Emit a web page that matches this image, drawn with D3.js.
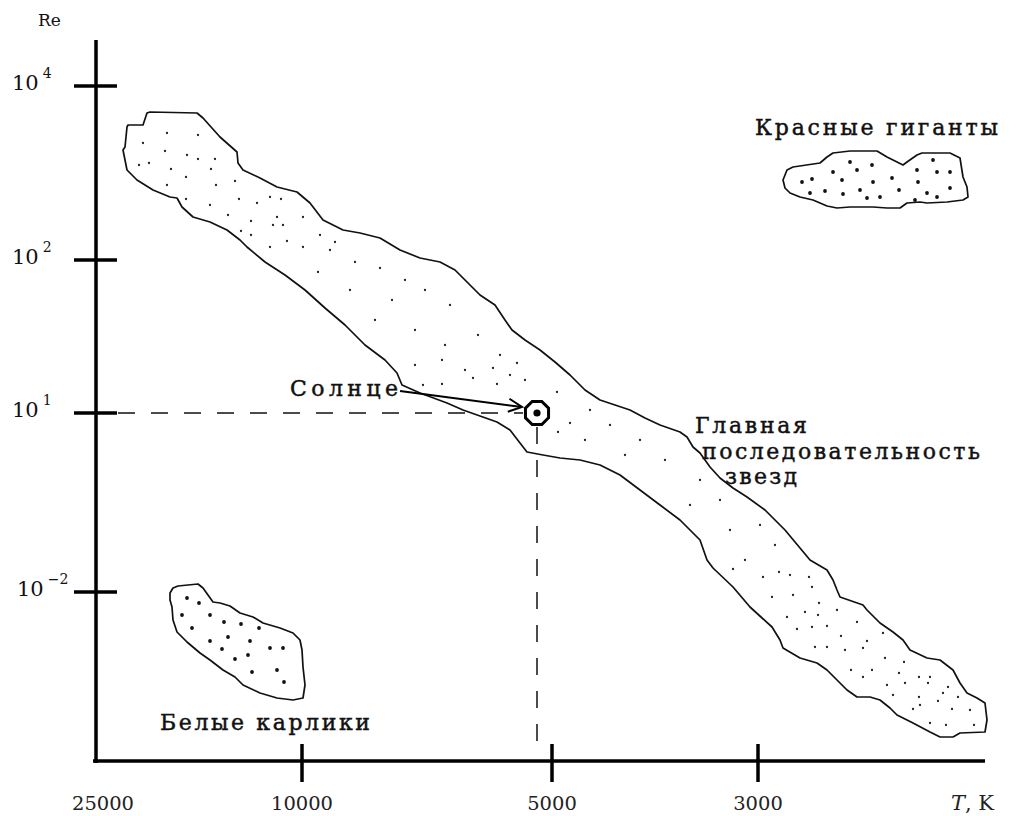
<!DOCTYPE html>
<html><head><meta charset="utf-8">
<script src="https://cdn.jsdelivr.net/npm/d3@7"></script>
<style>body{margin:0;background:#fff}svg{display:block}
text{font-family:"DejaVu Serif","Liberation Serif",serif}</style>
</head><body>
<svg id="chart" width="1035" height="816"></svg>
<script>
// ---- Axis data ----
const tempTicks = [25000, 10000, 5000, 3000];          // T, K (schematic axis)
const tempTickLabels = ["25000", "10000", "5000", "3000"];
const tempTickMarks = [10000, 5000, 3000];
const reExponents = [4, 2, 1, -2];                      // Re = 10^e
const reTickLabels = ["4", "2", "1", "\u22122"];
const axisTitleX = "T";
const axisTitleXUnit = ", K";
const axisTitleY = "Re";

// ---- Sun ----
const sunT = 5300;
const sunExp = 1;
const sunLabel = "Солнце";

// ---- Region labels ----
const mainSeqLabel = ["Главная", "последовательность", "звезд"];
const giantsLabel = "Красные гиганты";
const dwarfsLabel = "Белые карлики";

// ---- Regions, in sketch units (u along the T axis, v up the Re axis) ----
const mainSeqOutline = [
 [31,634],[32,636],[47,636],[51,648],[54,649],[101,648],[107,643],[124,624],[141,609],[142,598],[147,591],[164,583],[181,574],[201,569],[214,558],[227,541],[247,531],[264,528],[284,523],[304,511],[324,503],[344,499],[359,491],[374,476],[384,466],[399,456],[409,441],[416,431],[429,421],[444,411],[459,399],[474,386],[489,371],[504,361],[519,356],[534,351],[549,343],[564,336],[584,329],[591,324],[597,314],[604,308],[614,294],[624,283],[637,273],[651,264],[669,251],[689,231],[704,213],[714,201],[731,191],[737,181],[741,171],[744,164],[767,156],[771,151],[784,138],[797,129],[807,121],[814,111],[831,103],[844,101],[857,91],[864,78],[871,68],[881,63],[889,58],[891,41],[889,29],
 [864,28],[857,24],[844,24],[834,29],[817,38],[801,46],[794,53],[784,61],[774,64],[761,64],[751,71],[741,81],[731,91],[721,98],[704,103],[687,113],[684,121],[676,134],[654,154],[637,174],[617,193],[611,201],[604,221],[584,241],[564,256],[544,271],[524,286],[504,296],[484,301],[464,303],[447,306],[431,309],[424,318],[414,331],[401,339],[384,345],[367,351],[351,358],[324,368],[306,376],[301,388],[289,401],[269,416],[249,436],[229,453],[209,471],[189,486],[169,499],[151,514],[144,521],[131,531],[114,539],[97,544],[86,554],[81,563],[74,564],[57,571],[41,581],[31,591],[27,611],[29,614]
];
const mainSeqDots = [
 [71,628],[102,626],[47,618],[69,610],[91,606],[102,602],[119,602],[43,596],[53,598],[75,592],[115,592],[90,584],[139,580],[71,576],[120,576],[90,562],[143,562],[114,556],[161,558],[174,564],[185,562],[132,546],[181,544],[207,544],[155,540],[177,536],[187,536],[145,530],[155,526],[224,526],[239,519],[191,520],[174,514],[207,514],
 [234,511],[259,499],[222,489],[284,493],[309,481],[254,471],[296,461],[329,471],[354,456],[279,441],[319,431],[349,416],[382,426],[404,406],[369,391],[414,386],[319,396],[346,401],[377,383],[397,393],[421,398],[429,381],[327,376],[346,377],[401,377],[461,369],[474,338],[462,329],[494,351],[514,336],[489,321],[544,321],[569,301],[529,306],[604,281],[594,256],[624,261],[634,231],[664,236],[649,201],[679,216],[694,186],
 [637,192],[667,184],[683,189],[713,184],[716,174],[676,164],[697,166],[723,158],[741,151],[691,144],[709,149],[722,146],[731,135],[761,139],[701,132],[716,134],[745,125],[787,128],[771,120],[719,114],[731,114],[749,111],[767,113],[789,103],[808,99],[755,91],[776,91],[767,84],[803,88],[791,76],[809,78],[823,84],[834,84],[832,78],[852,74],[797,66],[823,64],[847,68],[862,64],[842,60],[824,56],[817,52],[856,52],[874,51],[834,38],[850,36],[878,36]
];
const giantsOutline = [
 [687,581],[691,591],[697,594],[724,598],[731,604],[737,608],[754,610],[781,610],[791,604],[801,599],[807,596],[811,599],[821,606],[826,608],[854,608],[864,603],[867,584],[871,574],[872,564],[867,561],[851,559],[831,558],[824,559],[811,558],[804,553],[791,553],[777,554],[754,554],[741,553],[731,555],[717,561],[704,564],[694,568],[689,573]
];
const giantsDots = [
 [754,599],[776,596],[737,589],[761,591],[837,601],[821,591],[841,589],[854,589],[706,579],[716,582],[746,581],[777,579],[796,583],[822,579],[714,568],[729,570],[747,567],[764,571],[771,563],[784,564],[803,571],[831,568],[841,564],[854,573],[819,561]
];
const dwarfsOutline = [
 [74,168],[77,173],[82,175],[102,177],[107,173],[112,166],[117,159],[124,158],[134,155],[144,148],[157,144],[167,138],[184,133],[197,128],[204,121],[206,111],[207,94],[209,76],[207,63],[197,61],[181,63],[164,68],[147,76],[139,84],[127,91],[114,101],[104,108],[91,119],[81,129],[77,141],[76,154],[74,161]
];
const dwarfsDots = [
 [91,163],[103,158],[86,146],[114,146],[128,139],[145,137],[163,133],[96,133],[114,120],[132,124],[154,120],[126,112],[174,113],[187,113],[139,102],[152,106],[156,89],[181,91],[188,79]
];

// ---- Drawing ----
const svg = d3.select("#chart");
const W = 1035, H = 816;
svg.append("rect").attr("width", W).attr("height", H).attr("fill", "#fff");

// Schematic scales
const xT = d3.scaleLinear().domain(tempTicks).range([103, 302, 552, 758]);
const yR = d3.scaleLinear().domain(reExponents).range([86, 260, 413, 592]);
// Sketch-unit scales for the free-hand regions (origin at the axes corner)
const sx = d3.scaleLinear().domain([0, 889]).range([96, 985]);
const sy = d3.scaleLinear().domain([0, 721]).range([761, 40]);

const outline = d3.line().x(d => sx(d[0])).y(d => sy(d[1])).curve(d3.curveLinearClosed);

function region(poly, dots, r, col) {
  const g = svg.append("g");
  g.append("path").attr("d", outline(poly))
    .attr("fill", "#fff").attr("stroke", "#111").attr("stroke-width", 1.7)
    .attr("stroke-linejoin", "round");
  g.selectAll("circle").data(dots).join("circle")
    .attr("cx", d => sx(d[0])).attr("cy", d => sy(d[1])).attr("r", r).attr("fill", col);
}
region(mainSeqOutline, mainSeqDots, 1.15, "#222");
region(giantsOutline, giantsDots, 1.9, "#111");
region(dwarfsOutline, dwarfsDots, 1.9, "#111");

// Axes
const axisW = 3.5;
svg.append("line").attr("x1", sx(0)).attr("x2", sx(0)).attr("y1", sy(721)).attr("y2", sy(0) + 2)
  .attr("stroke", "#000").attr("stroke-width", axisW);
svg.append("line").attr("x1", sx(0) - 3).attr("x2", sx(889)).attr("y1", sy(0)).attr("y2", sy(0))
  .attr("stroke", "#000").attr("stroke-width", axisW);

// Y ticks and labels
const yt = svg.append("g");
reExponents.forEach((e, i) => {
  const y = yR(e);
  yt.append("line").attr("x1", 74).attr("x2", 117).attr("y1", y).attr("y2", y)
    .attr("stroke", "#000").attr("stroke-width", axisW);
  const t = yt.append("text").attr("x", e < 0 ? 17 : 12).attr("y", y + 4)
    .attr("font-size", 21).attr("fill", "#111");
  t.append("tspan").text("10");
  t.append("tspan").attr("dx", 4).attr("dy", -12).attr("font-size", 14).text(reTickLabels[i]);
});
svg.append("text").attr("x", 38).attr("y", 26)
  .attr("font-size", 17).attr("fill", "#111").text(axisTitleY);

// X ticks and labels
const xt = svg.append("g");
tempTickMarks.forEach(t => {
  xt.append("line").attr("x1", xT(t)).attr("x2", xT(t)).attr("y1", sy(0) - 17).attr("y2", sy(0) + 21)
    .attr("stroke", "#000").attr("stroke-width", axisW);
});
tempTicks.forEach((t, i) => {
  xt.append("text").attr("x", xT(t)).attr("y", 810).attr("text-anchor", "middle")
    .attr("font-size", 19).attr("fill", "#222")
    .attr("textLength", tempTickLabels[i].length * 12.4).attr("lengthAdjust", "spacingAndGlyphs")
    .text(tempTickLabels[i]);
});
const tl = svg.append("text").attr("x", 951).attr("y", 810)
  .attr("font-size", 21).attr("fill", "#222");
tl.append("tspan").attr("font-style", "italic").text(axisTitleX);
tl.append("tspan").text(axisTitleXUnit);

// Sun, guide lines and arrow
const cx = xT(sunT), cy = yR(sunExp);
const guide = svg.append("g").attr("stroke", "#111").attr("stroke-width", 1.5)
  .attr("stroke-dasharray", "17,16").attr("fill", "none");
guide.append("line").attr("x1", 118).attr("x2", cx - 14).attr("y1", cy).attr("y2", cy);
guide.append("line").attr("x1", cx).attr("x2", cx).attr("y1", cy + 14).attr("y2", sy(0) - 10);

const oct = d3.range(8).map(k => {
  const a = Math.PI / 8 + k * Math.PI / 4;
  return [cx + 12.5 * Math.cos(a), cy + 12.5 * Math.sin(a)];
});
svg.append("path").attr("d", d3.line().curve(d3.curveLinearClosed)(oct))
  .attr("fill", "#fff").attr("stroke", "#000").attr("stroke-width", 3);
svg.append("circle").attr("cx", cx).attr("cy", cy).attr("r", 3.6).attr("fill", "#000");

// arrow from label to Sun
const ax0 = 400, ay0 = 391, ax1 = cx - 15, ay1 = cy - 6;
svg.append("line").attr("x1", ax0).attr("y1", ay0).attr("x2", ax1).attr("y2", ay1)
  .attr("stroke", "#000").attr("stroke-width", 2);
const ang = Math.atan2(ay1 - ay0, ax1 - ax0);
const hl = 15, hw = 0.45;
svg.append("path")
  .attr("d", d3.line()([[ax1 - hl * Math.cos(ang - hw), ay1 - hl * Math.sin(ang - hw)], [ax1, ay1],
                        [ax1 - hl * Math.cos(ang + hw), ay1 - hl * Math.sin(ang + hw)]]))
  .attr("fill", "none").attr("stroke", "#000").attr("stroke-width", 2);

// Text annotations
function label(txt, x, y, w, size) {
  svg.append("text").attr("x", x).attr("y", y)
    .attr("font-size", size).attr("fill", "#111").attr("stroke", "#111").attr("stroke-width", 0.45)
    .attr("textLength", w).attr("lengthAdjust", "spacing").text(txt);
}
label(sunLabel, 290, 396, 108, 22);
label(mainSeqLabel[0], 695, 433, 112, 22);
label(mainSeqLabel[1], 702, 459, 278, 22);
label(mainSeqLabel[2], 725, 484, 72, 22);
label(giantsLabel, 755, 135, 243, 22);
label(dwarfsLabel, 160, 730, 210, 22);
</script>
</body></html>
